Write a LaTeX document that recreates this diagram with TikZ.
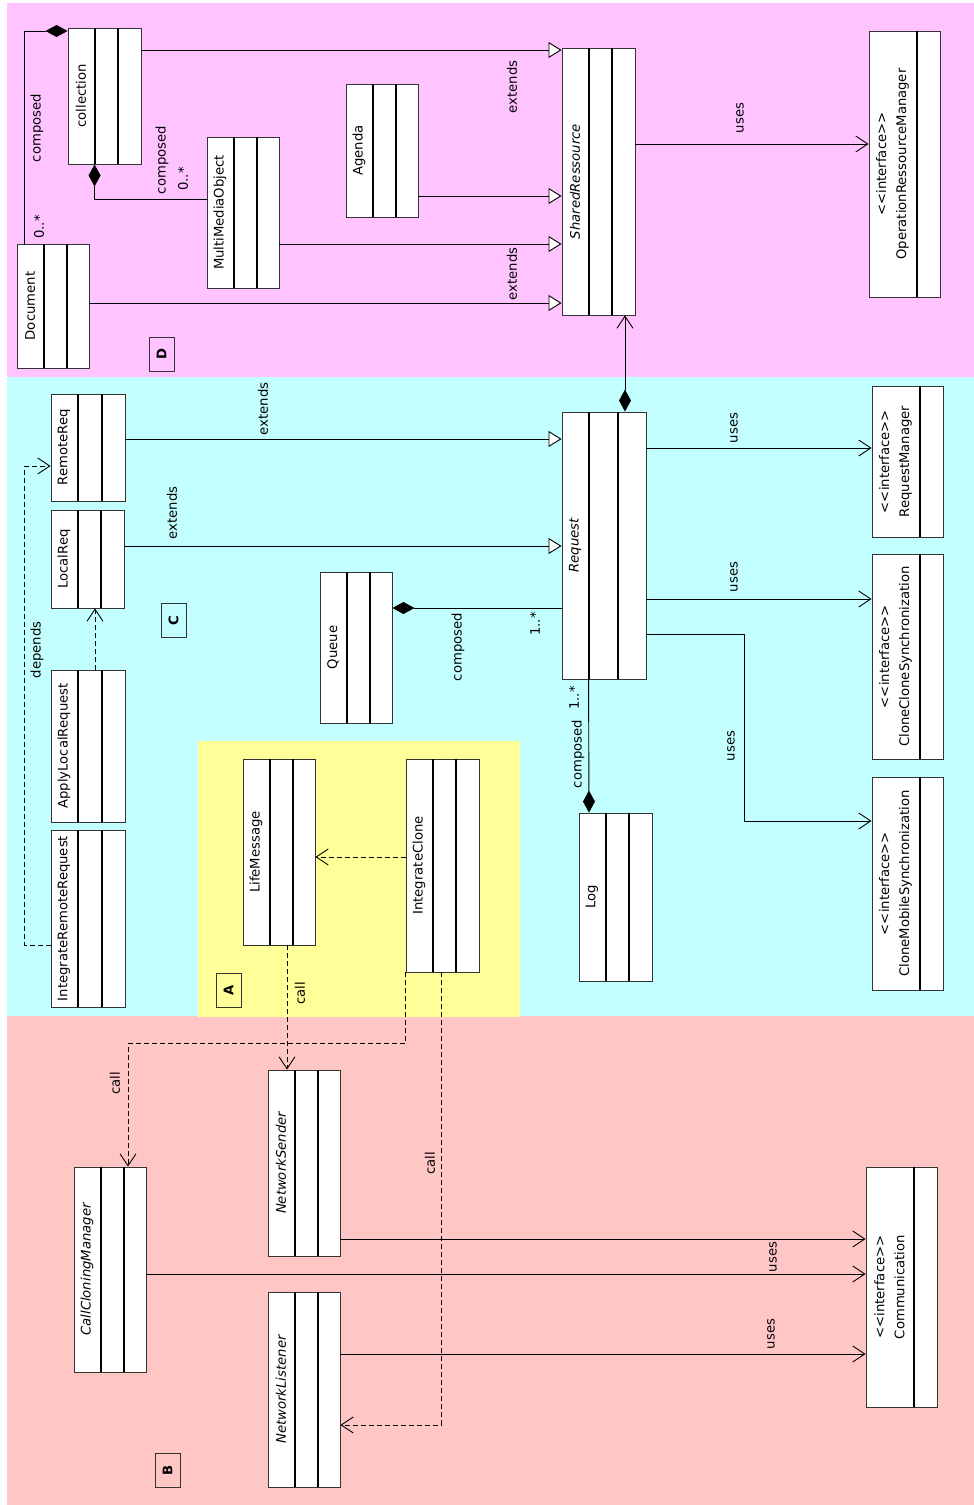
\documentclass[tikz,border=0pt]{standalone}
\usepackage{fontspec}
\setmainfont{DejaVu Sans}
\usetikzlibrary{arrows.meta, calc, fit}
\definecolor{pkgD}{RGB}{255,196,255}
\definecolor{pkgC}{RGB}{196,255,255}
\definecolor{pkgB}{RGB}{255,198,198}
\definecolor{pkgA}{RGB}{255,255,153}
\newcommand{\diagfont}{\fontsize{13.2}{20}\selectfont}
\tikzset{%
    >={Straight Barb[length=12pt,width=16pt]},
    classbox/.style  = {rectangle, draw=black!80, fill=white, line width=0.9pt,
                        inner sep=0pt},
    compart/.style   = {line width=2pt},
    classname/.style = {rotate=90, inner sep=0pt},
    pkglabel/.style  = {rectangle, draw=black!80, line width=0.9pt, rotate=90,
                        minimum width=34pt, minimum height=25pt, inner sep=0pt,
                        font=\diagfont\bfseries},
    lbl/.style       = {rotate=90, inner sep=0pt},
    assoc/.style     = {line width=0.9pt},
    extends/.style   = {assoc, -{Triangle[open, fill=white, length=13pt, width=16pt]}},
    uses/.style      = {assoc, ->},
    composed/.style  = {assoc, -{Diamond[length=22pt, width=12pt]}},
    calls/.style     = {assoc, dash pattern=on 5pt off 3pt, ->},
}
\newcommand{\umlclass}[5][]{%
    \node[classbox, fit={(#3) (#4)}] (#2) {};
    \draw[compart] ($(#2.north west)+(27,0)$) -- ($(#2.south west)+(27,0)$);
    \draw[compart] ($(#2.north)+(13.5,0)$) -- ($(#2.south)+(13.5,0)$);
    \node[classname] (#2-name) at ($(#2.west)+(13.5,0)$) {#1#5};
}
\newcommand{\umliface}[4]{%
    \node[classbox, fit={(#2) (#3)}] (#1) {};
    \draw[compart] ($(#1.north east)+(-23,0)$) -- ($(#1.south east)+(-23,0)$);
    \node[classname, align=center] (#1-name) at ($(#1.west)+(24,0)$)
        {<{}<interface>{}>\\#4};
}

\begin{document}
\begin{tikzpicture}[x=1pt, y=-1pt, font=\diagfont]
    \useasboundingbox (0,0) rectangle (974,1505);
    \fill[white] (0,0) rectangle (974,1505);
    % packages
    \fill[pkgD] (7,3)    rectangle (974,377);
    \fill[pkgC] (7,377)  rectangle (974,1016);
    \fill[pkgB] (7,1016) rectangle (974,1505);
    \fill[pkgA] (198,741) rectangle (520,1017);
    \node[pkglabel] (pkD) at (161.5,354)  {D};
    \node[pkglabel] (pkC) at (173.5,620.5) {C};
    \node[pkglabel] (pkA) at (228.5,990)  {A};
    \node[pkglabel] (pkB) at (167.5,1470) {B};

    % classes
    \umlclass{coll}{68,28}{141,164}{collection}
    \umlclass{mmo}{207,137}{279,288}{MultiMediaObject}
    \umlclass{agenda}{346,84}{418,217}{Agenda}
    \umlclass{doc}{17,244}{89,368}{Document}
    \umlclass[\itshape]{shared}{562,48}{635,315}{SharedRessource}
    \umliface{orm}{869,31}{940,297}{OperationRessourceManager}
    \umlclass{rreq}{51,394}{125,501}{RemoteReq}
    \umlclass{lreq}{51,510}{124,608}{LocalReq}
    \umlclass{alr}{51,670}{125,822}{ApplyLocalRequest}
    \umlclass{irr}{51,830}{125,1007}{IntegrateRemoteRequest}
    \umlclass{queue}{320,572}{392,723}{Queue}
    \umlclass[\itshape]{req}{562,412}{646,679}{Request}
    \umliface{rm}{872,386}{943,537}{RequestManager}
    \umliface{ccs}{872,554}{943,759}{CloneCloneSynchronization}
    \umliface{cms}{872,777}{943,990}{CloneMobileSynchronization}
    \umlclass{log}{579,813}{652,981}{Log}
    \umlclass{lm}{243,759}{315,945}{LifeMessage}
    \umlclass{ic}{406,759}{479,972}{IntegrateClone}
    \umlclass[\itshape]{ns}{268,1070}{340,1256}{NetworkSender}
    \umlclass[\itshape]{ccm}{74,1167}{146,1372}{CallCloningManager}
    \umlclass[\itshape]{nl}{268,1292}{340,1487}{NetworkListener}
    \umliface{comm}{866,1167}{937,1407}{Communication}

    % package D
    \draw[composed] ($(doc.north west)+(8,0)$) |- (coll.west |- 0,31);
    \draw[composed] (mmo.west |- 0,199) -| ($(coll.south west)+(27,0)$);
    \draw[extends] (coll.east |- 0,50)    -- (shared.west |- 0,50);
    \draw[extends] (agenda.east |- 0,196) -- (shared.west |- 0,196);
    \draw[extends] (mmo.east |- 0,244)    -- (shared.west |- 0,244);
    \draw[extends] (doc.east |- 0,303)    -- (shared.west |- 0,303);
    \draw[uses]    (shared.east |- 0,144) -- (orm.west |- 0,144);
    \node[lbl] (tDcomp1) at (37,128)  {composed};
    \node[lbl] (tDmult1) at (39,227)  {0..*};
    \node[lbl] (tDcomp2) at (162,160) {composed};
    \node[lbl] (tDmult2) at (183,179) {0..*};
    \node[lbl] (tDext1)  at (512,87)  {extends};
    \node[lbl] (tDext2)  at (512,274) {extends};
    \node[lbl] (tDuses)  at (740,118) {uses};

    % package C
    \draw[assoc, {Diamond[length=22pt, width=12pt]}->] (req.north -| 625,0) -- (shared.south -| 625,0);
    \draw[extends]  (rreq.east |- 0,439) -- (req.west |- 0,439);
    \draw[extends]  (lreq.east |- 0,546) -- (req.west |- 0,546);
    \draw[calls]    (irr.west |- 0,945) -- ++(-26,0) |- (rreq.west |- 0,466);
    \draw[calls]    (alr.north -| 95,0) -- (lreq.south -| 95,0);
    \draw[composed] (req.west |- 0,608) -- (queue.east |- 0,608);
    \draw[composed] ($(req.south west)+(27,0)$) -- (log.north -| 589,0);
    \draw[uses]     (req.east |- 0,448) -- (rm.west |- 0,448);
    \draw[uses]     (req.east |- 0,599) -- (ccs.west |- 0,599);
    \draw[uses]     (req.east |- 0,634) -- ++(98,0) |- (cms.west |- 0,821);
    \node[lbl] (tCext1)  at (263,409) {extends};
    \node[lbl] (tCext2)  at (172,513) {extends};
    \node[lbl] (tCdep)   at (37,650)  {depends};
    \node[lbl] (tCcomp1) at (458,647) {composed};
    \node[lbl] (tCmult1) at (535,624) {1..*};
    \node[lbl] (tCcomp2) at (578,754) {composed};
    \node[lbl] (tCmult2) at (574,698) {1..*};
    \node[lbl] (tCuses1) at (734,428) {uses};
    \node[lbl] (tCuses2) at (734,577) {uses};
    \node[lbl] (tCuses3) at (731,746) {uses};

    % packages A and B
    \draw[calls] (ic.west |- 0,857) -- (lm.east |- 0,857);
    \draw[calls] (lm.south -| 287,0) -- (ns.north -| 287,0);
    \draw[calls] (ic.south west) -- ++(0,71) -| (ccm.north -| 128,0);
    \draw[calls] (ic.south -| 441,0) |- (nl.east |- 0,1425);
    \draw[uses]  (ns.east |- 0,1239)  -- (comm.west |- 0,1239);
    \draw[uses]  (ccm.east |- 0,1274) -- (comm.west |- 0,1274);
    \draw[uses]  (nl.east |- 0,1354)  -- (comm.west |- 0,1354);
    \node[lbl] (tAcall)  at (300,993)  {call};
    \node[lbl] (tBcall1) at (115,1083) {call};
    \node[lbl] (tBcall2) at (430,1163) {call};
    \node[lbl] (tBuses1) at (773,1257) {uses};
    \node[lbl] (tBuses2) at (771,1334) {uses};
\end{tikzpicture}
\end{document}
